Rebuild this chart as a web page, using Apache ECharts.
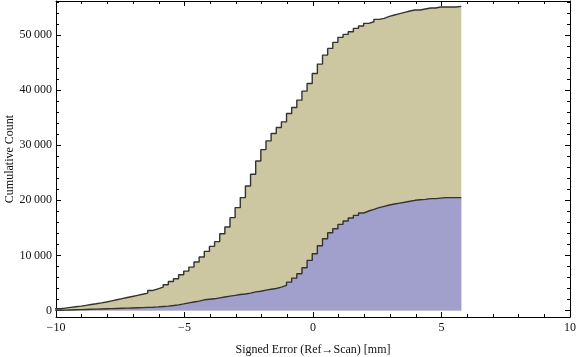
<!DOCTYPE html>
<html><head><meta charset="utf-8">
<script src="https://cdn.jsdelivr.net/npm/echarts@6/dist/echarts.min.js"></script>
<style>html,body{margin:0;padding:0;background:#fff}#c{width:576px;height:357px}</style>
</head><body><div id="c"></div>
<script>
// Histogram bins (cumulative counts), bin width 0.2 mm
const binStart = -10.03;
const binWidth = 0.2;
const tanCounts = [320,440,560,680,800,940,1080,1220,1380,1550,1750,1950,2150,2350,2550,2750,2950,3150,3640,3940,
  4240,4670,5270,5760,6480,7150,7880,8790,9700,10730,11640,12500,13940,15150,16850,18670,20490,22600,24730,27150,
  29210,30790,32120,33210,34240,35760,36850,38180,39820,41210,43030,44730,46360,47580,48670,49580,50120,50600,51210,51640,
  52120,52420,52850,53030,53390,53640,53880,54120,54360,54550,54550,54730,54910,54910,55090,55090,55090,55090,55210];
const blueCounts = [40,70,100,130,160,190,220,250,280,310,340,370,400,430,460,490,520,560,600,650,
  727,800,900,1030,1200,1390,1550,1700,1940,2050,2120,2300,2450,2600,2750,2910,3000,3150,3390,3500,
  3700,3850,4000,4240,4550,5150,5880,6670,7760,9090,10300,11760,13030,14120,14850,15640,16240,16790,17270,17700,
  18060,18360,18670,18910,19150,19330,19500,19650,19820,20000,20100,20180,20300,20300,20400,20490,20490,20490,20490];
const yMajorTicks = [0,10000,20000,30000,40000,50000];
const yMinorTicks = [2000,4000,6000,8000,12000,14000,16000,18000,22000,24000,26000,28000,32000,34000,36000,38000,42000,44000,46000,48000,52000,54000,56000];
const xName = 'Signed Error (Ref\u2192Scan) [mm]';
const yName = 'Cumulative Count';

function stepData(counts){
  const d = counts.map((v,i)=>[binStart + i*binWidth, v]);
  d.push([binStart + counts.length*binWidth, counts[counts.length-1]]);
  return d;
}
const font = 'Liberation Serif';
const fmtY = v => String(v).replace(/\B(?=(\d{3})+(?!\d))/g, '\u2009');
const fmtX = v => v < 0 ? '\u2212' + Math.abs(v) : String(v);
const YMIN = -1180, YMAX = 56180;
const lineCol = '#000';

const chart = echarts.init(document.getElementById('c'), null, {renderer:'canvas'});
chart.setOption({
  animation:false,
  grid:{left:56, right:6, top:1, bottom:40, containLabel:false, outerBoundsMode:'none'},
  xAxis:[
    {type:'value', position:'bottom', min:-10, max:10, interval:5,
     axisLine:{show:true, onZero:false, lineStyle:{color:lineCol, width:1}},
     axisTick:{show:true, inside:true, length:5, lineStyle:{color:lineCol}},
     minorTick:{show:true, splitNumber:5, length:3, lineStyle:{color:lineCol}},
     splitLine:{show:false},
     axisLabel:{show:true, margin:5, color:'#111', fontFamily:font, fontSize:12, formatter:fmtX},
     name:xName, nameLocation:'middle', nameGap:27, nameMoveOverlap:false,
     nameTextStyle:{color:'#111', fontFamily:font, fontSize:12}},
    {type:'value', position:'top', min:-10, max:10, interval:5,
     axisLine:{show:true, onZero:false, lineStyle:{color:lineCol, width:1}},
     axisTick:{show:true, inside:true, length:5, lineStyle:{color:lineCol}},
     minorTick:{show:true, splitNumber:5, length:3, lineStyle:{color:lineCol}},
     splitLine:{show:false}, axisLabel:{show:false}}
  ],
  yAxis:[
    {type:'value', position:'left', min:YMIN, max:YMAX,
     axisLine:{show:true, onZero:false, lineStyle:{color:lineCol, width:1}},
     axisTick:{show:true, inside:true, length:5, customValues:yMajorTicks, lineStyle:{color:lineCol}},
     splitLine:{show:false},
     axisLabel:{show:true, margin:4, customValues:yMajorTicks, color:'#111', fontFamily:font, fontSize:12, formatter:fmtY},
     name:yName, nameLocation:'middle', nameGap:40, nameMoveOverlap:false,
     nameTextStyle:{color:'#111', fontFamily:font, fontSize:12}},
    {type:'value', position:'left', min:YMIN, max:YMAX,
     axisLine:{show:false, onZero:false},
     axisTick:{show:true, inside:true, length:3, customValues:yMinorTicks, lineStyle:{color:lineCol}},
     splitLine:{show:false}, axisLabel:{show:false}},
    {type:'value', position:'right', min:YMIN, max:YMAX,
     axisLine:{show:true, onZero:false, lineStyle:{color:lineCol, width:1}},
     axisTick:{show:true, inside:true, length:5, customValues:yMajorTicks, lineStyle:{color:lineCol}},
     splitLine:{show:false}, axisLabel:{show:false}},
    {type:'value', position:'right', min:YMIN, max:YMAX,
     axisLine:{show:false, onZero:false},
     axisTick:{show:true, inside:true, length:3, customValues:yMinorTicks, lineStyle:{color:lineCol}},
     splitLine:{show:false}, axisLabel:{show:false}}
  ],
  series:[
    {type:'line', name:'all', xAxisIndex:0, yAxisIndex:0, step:'end', symbol:'none', clip:true,
     data:stepData(tanCounts),
     lineStyle:{color:'#333', width:1.4},
     areaStyle:{color:'#CCC7A1', opacity:1}},
    {type:'line', name:'subset', xAxisIndex:0, yAxisIndex:0, step:'end', symbol:'none', clip:true,
     data:stepData(blueCounts),
     lineStyle:{color:'#333', width:1.4},
     areaStyle:{color:'#A19FCC', opacity:1}}
  ]
});
</script></body></html>
